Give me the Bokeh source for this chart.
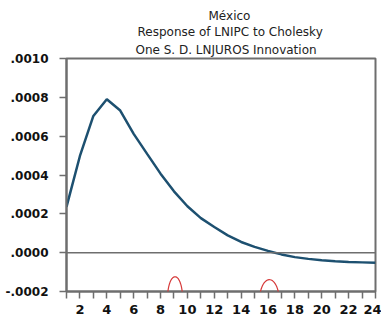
import numpy as np
from bokeh.plotting import figure
from bokeh.models import FixedTicker, Span, Title, PolyAnnotation, Range1d
from bokeh.embed import file_html
from bokeh.resources import INLINE

# ---- data ----
periods = list(range(1, 25))
response = [0.000236, 0.000498, 0.000704, 0.000790, 0.000732, 0.000612,
            0.000509, 0.000407, 0.000316, 0.000239, 0.000178, 0.000132,
            0.000089, 0.000055, 0.000030, 0.000009, -0.000009, -0.000023,
            -0.000032, -0.000039, -0.000044, -0.000048, -0.000050, -0.000052]
x_major_ticks = list(range(2, 25, 2))
x_minor_ticks = list(range(1, 24, 2))
y_ticks = [-0.0002, 0.0, 0.0002, 0.0004, 0.0006, 0.0008, 0.0010]
y_tick_labels = ["-.0002", ".0000", ".0002", ".0004", ".0006", ".0008", ".0010"]
title_lines = ["México", "Response of LNIPC to Cholesky", "One S. D. LNJUROS Innovation"]

GRAY = "#6e6e6e"
FONT = "DejaVu Sans"

p = figure(width=381, height=325, output_backend="svg", toolbar_location=None,
           x_range=Range1d(1, 24), y_range=Range1d(-0.0002, 0.0010),
           min_border_left=66, min_border_right=6, min_border_top=58,
           min_border_bottom=34)
p.grid.visible = False
p.outline_line_color = GRAY
p.outline_line_width = 2
p.background_fill_color = "white"
p.border_fill_color = "white"

# x axis
xa = p.xaxis[0]
xa.ticker = FixedTicker(ticks=x_major_ticks, minor_ticks=x_minor_ticks)
xa.axis_line_color = GRAY
xa.axis_line_width = 2
xa.major_tick_in = 0
xa.major_tick_out = 7
xa.minor_tick_in = 0
xa.minor_tick_out = 7
xa.major_tick_line_color = GRAY
xa.minor_tick_line_color = GRAY
xa.major_tick_line_width = 1.5
xa.minor_tick_line_width = 1.5
xa.major_label_standoff = 6
xa.major_label_text_font = FONT
xa.major_label_text_font_style = "bold"
xa.major_label_text_font_size = "13px"
xa.major_label_text_color = "#111111"

# y axis
ya = p.yaxis[0]
ya.ticker = FixedTicker(ticks=y_ticks)
ya.major_label_overrides = {t: l for t, l in zip(y_ticks, y_tick_labels)}
ya.axis_line_color = GRAY
ya.axis_line_width = 2
ya.major_tick_in = 0
ya.major_tick_out = 7
ya.minor_tick_out = 0
ya.minor_tick_in = 0
ya.major_tick_line_color = GRAY
ya.major_tick_line_width = 1.5
ya.major_label_standoff = 11
ya.major_label_text_font = FONT
ya.major_label_text_font_style = "bold"
ya.major_label_text_font_size = "12px"
ya.major_label_text_color = "#111111"

# zero line
p.add_layout(Span(location=0, dimension="width", line_color=GRAY, line_width=1.5))

# response line
p.line(periods, response, line_color="#1d5070", line_width=2.5)

# title: three lines, added from the plot outward
title_offsets = [142, 71, 69]
title_standoffs = [0, 0, 4]
for txt, off, so in reversed(list(zip(title_lines, title_offsets, title_standoffs))):
    p.add_layout(Title(text=txt, align="left", offset=off, standoff=so,
                       text_font=FONT, text_font_size="12px",
                       text_font_style="normal", text_color="#222222"),
                 "above")

# red hand-drawn circles around tick labels (placed in the lower panel so
# that they are not clipped to the frame)
t = np.linspace(0, 2 * np.pi, 60)
for cx, cy, rx, ry in [(9.08, -0.000235, 0.56, 0.000111),
                       (16.1, -0.000250, 0.74, 0.000111)]:
    p.add_layout(PolyAnnotation(xs=list(cx + rx * np.cos(t)),
                                ys=list(cy + ry * np.sin(t)),
                                fill_alpha=0, line_color="#d63a3a",
                                line_alpha=1.0, line_width=1.2),
                 "below")

open("out.html", "w").write(file_html(p, INLINE))
